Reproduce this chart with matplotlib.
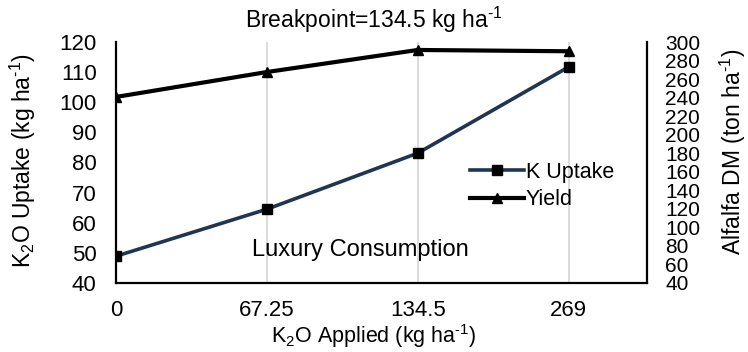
import numpy as np
import matplotlib.pyplot as plt

plt.rcParams['font.family'] = ['Liberation Sans', 'DejaVu Sans']
plt.rcParams['mathtext.fontset'] = 'custom'
plt.rcParams['mathtext.rm'] = 'Liberation Sans'
plt.rcParams['mathtext.it'] = 'Liberation Sans'

# K2O rates applied (kg/ha), used as category labels
rates = ['0', '67.25', '134.5', '269']
k_uptake = [48.9, 64.5, 83.1, 111.7]     # kg K2O / ha
yield_dm = [240.7, 267.6, 291.4, 290.0]  # ton / ha

NAVY = '#1f3552'
FS = 16.5
W, H = 748, 352

pos = np.arange(len(rates))

fig = plt.figure(figsize=(W / 100, H / 100), dpi=100)
ax = fig.add_axes([116 / W, 1 - 283 / H, (647 - 116) / W, (283 - 42) / H])
ax2 = ax.twinx()

# light vertical gridlines at each category
for p in pos[1:]:
    ax.axvline(p, color='#d9d9d9', lw=1.3, zorder=0)

ax.plot(pos, k_uptake, color=NAVY, lw=2.6, marker='s', ms=7,
        mfc='black', mec='black', label='K Uptake', zorder=3)
ax2.plot(pos, yield_dm, color='black', lw=3, marker='^', ms=7,
         mfc='black', mec='black', label='Yield', zorder=3)

ax.set_xlim(0, 3.52)
ax.set_ylim(40, 120)
ax.set_yticks(np.arange(40, 121, 10))
ax2.set_ylim(40, 300)
ax2.set_yticks(np.arange(40, 301, 20))

ax.set_xticks(pos)
ax.set_xticklabels(rates)
ax.tick_params(axis='x', length=0, pad=12, labelsize=16)
ax.tick_params(axis='y', length=0, pad=14, labelsize=16)
ax2.tick_params(axis='y', length=0, pad=13, labelsize=15)

for a in (ax, ax2):
    a.spines['top'].set_visible(False)
ax.spines['right'].set_visible(False)
ax2.spines['left'].set_visible(False)
ax2.spines['bottom'].set_visible(False)
for s in ('left', 'bottom'):
    ax.spines[s].set_linewidth(1.6)
ax2.spines['right'].set_linewidth(1.6)

# axis titles placed in figure pixels
sup = r'$^{\text{-1}}$'
fig.text(374 / W, 1 - 336 / H, 'K$_{2}$O Applied (kg ha' + sup + ')',
         ha='center', va='center', fontsize=15.5)
fig.text(23 / W, 1 - 161 / H, 'K$_{2}$O Uptake (kg ha' + sup + ')',
         ha='center', va='center', rotation=90, fontsize=FS)
fig.text(733 / W, 1 - 152 / H, 'Alfalfa DM (ton ha' + sup + ')',
         ha='center', va='center', rotation=90, fontsize=FS)
fig.text(374 / W, 1 - 20 / H, 'Breakpoint=134.5 kg ha' + sup,
         ha='center', va='center', fontsize=FS)

ax.text(1.62, 50.9, 'Luxury Consumption', ha='center', va='center', fontsize=17)

h1, l1 = ax.get_legend_handles_labels()
h2, l2 = ax2.get_legend_handles_labels()
leg = ax2.legend(h1 + h2, l1 + l2, loc='center left',
                 frameon=False, fontsize=15.5, handlelength=2.5, handletextpad=0.1,
                 labelspacing=0.3, borderpad=0, borderaxespad=0)
leg.set_bbox_to_anchor((470 / W, 1 - 186 / H), transform=fig.transFigure)

fig.savefig('out.png', dpi=100)
